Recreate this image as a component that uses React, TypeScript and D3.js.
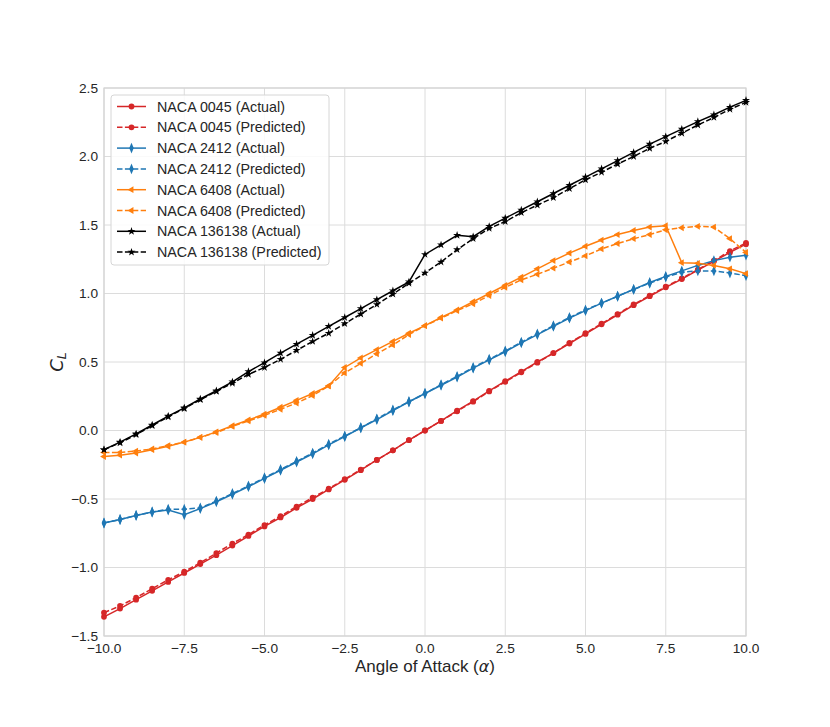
import * as d3 from 'd3';
import React from 'react';

const alpha = [
  -10, -9.5, -9, -8.5, -8, -7.5, -7, -6.5, -6, -5.5, -5, -4.5, -4, -3.5, -3, -2.5, -2, -1.5, -1, -0.5,
  0, 0.5, 1, 1.5, 2, 2.5, 3, 3.5, 4, 4.5, 5, 5.5, 6, 6.5, 7, 7.5, 8, 8.5, 9, 9.5, 10,
];

const naca0045Actual = [
  -1.36, -1.3, -1.235, -1.17, -1.105, -1.04, -0.975, -0.91, -0.84, -0.77, -0.7, -0.635, -0.565, -0.5, -0.43, -0.36, -0.29, -0.215, -0.145, -0.07,
  0, 0.07, 0.145, 0.215, 0.29, 0.36, 0.43, 0.5, 0.565, 0.635, 0.705, 0.775, 0.845, 0.915, 0.98, 1.045, 1.105, 1.17, 1.235, 1.3, 1.36,
];
const naca0045Predicted = [
  -1.33, -1.28, -1.22, -1.155, -1.09, -1.03, -0.965, -0.895, -0.825, -0.76, -0.69, -0.625, -0.555, -0.49, -0.425, -0.355, -0.285, -0.215, -0.145, -0.07,
  0, 0.07, 0.14, 0.21, 0.285, 0.355, 0.425, 0.495, 0.565, 0.64, 0.71, 0.78, 0.85, 0.92, 0.985, 1.05, 1.11, 1.175, 1.24, 1.31, 1.37,
];

const naca2412Actual = [
  -0.675, -0.65, -0.62, -0.595, -0.58, -0.615, -0.57, -0.52, -0.465, -0.41, -0.35, -0.29, -0.23, -0.17, -0.105, -0.045, 0.02, 0.08, 0.145, 0.21,
  0.27, 0.33, 0.39, 0.455, 0.515, 0.575, 0.64, 0.7, 0.76, 0.82, 0.875, 0.93, 0.98, 1.03, 1.08, 1.125, 1.165, 1.205, 1.24, 1.265, 1.28,
];
const naca2412Predicted = [
  -0.675, -0.65, -0.62, -0.595, -0.575, -0.575, -0.565, -0.515, -0.46, -0.405, -0.345, -0.285, -0.225, -0.165, -0.1, -0.04, 0.02, 0.085, 0.15, 0.21,
  0.27, 0.335, 0.395, 0.46, 0.52, 0.58, 0.645, 0.705, 0.765, 0.825, 0.88, 0.93, 0.98, 1.03, 1.075, 1.12, 1.155, 1.165, 1.165, 1.15, 1.13,
];

const naca6408Actual = [
  -0.19, -0.18, -0.165, -0.14, -0.115, -0.085, -0.05, -0.01, 0.035, 0.077, 0.12, 0.17, 0.22, 0.27, 0.325, 0.46, 0.53, 0.59, 0.65, 0.71,
  0.765, 0.825, 0.88, 0.94, 1.0, 1.06, 1.12, 1.18, 1.24, 1.295, 1.345, 1.39, 1.43, 1.46, 1.485, 1.495, 1.225, 1.22, 1.205, 1.18, 1.145,
];
const naca6408Predicted = [
  -0.16, -0.16, -0.15, -0.135, -0.11, -0.085, -0.05, -0.015, 0.03, 0.07, 0.11, 0.155, 0.2, 0.255, 0.325, 0.42, 0.49, 0.56, 0.625, 0.7,
  0.765, 0.82, 0.875, 0.925, 0.985, 1.045, 1.1, 1.14, 1.185, 1.23, 1.275, 1.325, 1.365, 1.4, 1.43, 1.465, 1.48, 1.49, 1.485, 1.4, 1.3,
];

const naca136138Actual = [
  -0.14, -0.085, -0.025, 0.04, 0.105, 0.165, 0.23, 0.29, 0.355, 0.43, 0.495, 0.565, 0.63, 0.695, 0.76, 0.825, 0.89, 0.955, 1.02, 1.085,
  1.285, 1.355, 1.425, 1.415, 1.49, 1.55, 1.61, 1.67, 1.73, 1.79, 1.85, 1.91, 1.97, 2.03, 2.09, 2.145, 2.2, 2.255, 2.305, 2.36, 2.41,
];
const naca136138Predicted = [
  -0.14, -0.09, -0.03, 0.035, 0.1, 0.16, 0.225, 0.285, 0.345, 0.41, 0.46, 0.52, 0.585, 0.65, 0.71, 0.78, 0.85, 0.92, 0.995, 1.075,
  1.15, 1.23, 1.32, 1.4, 1.475, 1.525, 1.59, 1.645, 1.7, 1.765, 1.83, 1.885, 1.945, 2.0, 2.06, 2.11, 2.17, 2.23, 2.285, 2.345, 2.395,
];

const xTicks = [-10, -7.5, -5, -2.5, 0, 2.5, 5, 7.5, 10];
const yTicks = [-1.5, -1.0, -0.5, 0.0, 0.5, 1.0, 1.5, 2.0, 2.5];

type Marker = 'circle' | 'diamond' | 'triangle' | 'star';

const series = [
  { label: 'NACA 0045 (Actual)', values: naca0045Actual, color: '#d62728', dashed: false, marker: 'circle' as Marker },
  { label: 'NACA 0045 (Predicted)', values: naca0045Predicted, color: '#d62728', dashed: true, marker: 'circle' as Marker },
  { label: 'NACA 2412 (Actual)', values: naca2412Actual, color: '#1f77b4', dashed: false, marker: 'diamond' as Marker },
  { label: 'NACA 2412 (Predicted)', values: naca2412Predicted, color: '#1f77b4', dashed: true, marker: 'diamond' as Marker },
  { label: 'NACA 6408 (Actual)', values: naca6408Actual, color: '#ff7f0e', dashed: false, marker: 'triangle' as Marker },
  { label: 'NACA 6408 (Predicted)', values: naca6408Predicted, color: '#ff7f0e', dashed: true, marker: 'triangle' as Marker },
  { label: 'NACA 136138 (Actual)', values: naca136138Actual, color: '#000000', dashed: false, marker: 'star' as Marker },
  { label: 'NACA 136138 (Predicted)', values: naca136138Predicted, color: '#000000', dashed: true, marker: 'star' as Marker },
];

const width = 830;
const height = 727;
const margin = { top: 88, right: 84, bottom: 91, left: 104 };
const font = '"Liberation Sans", Arial, sans-serif';

const markerPath: Record<Marker, string> = {
  circle: d3.symbol(d3.symbolCircle, 26)() || '',
  diamond: d3.symbol(d3.symbolDiamond, 34)() || '',
  triangle: d3.symbol(d3.symbolTriangle, 20)() || '',
  star: d3.symbol(d3.symbolStar, 20)() || '',
};

const markerTransform = (m: Marker, x: number, y: number): string => {
  if (m === 'diamond') return `translate(${x},${y}) scale(0.72,1)`;
  if (m === 'triangle') return `translate(${x},${y}) rotate(-90)`;
  return `translate(${x},${y})`;
};

function App(): any {
  const xScale = d3.scaleLinear().domain([-10, 10]).range([margin.left, width - margin.right]);
  const yScale = d3.scaleLinear().domain([-1.5, 2.5]).range([height - margin.bottom, margin.top]);

  const line = (vals: number[]) =>
    d3.line<number>()
      .x((_, i) => xScale(alpha[i]))
      .y((d) => yScale(d))(vals) || '';

  const fmt = (v: number) => (v < 0 ? '\u2212' : '') + Math.abs(v).toFixed(1);

  const legendX = 111;
  const legendY = 95;
  const rowH = 20.8;

  return (
    <svg width={width} height={height} style={{ position: 'absolute', left: 0, top: 0, background: '#fff' }} fontFamily={font}>
      <g className="grid">
        {xTicks.map((t) => (
          <line key={'gx' + t} x1={xScale(t)} x2={xScale(t)} y1={margin.top} y2={height - margin.bottom} stroke="#dcdcdc" strokeWidth={1} />
        ))}
        {yTicks.map((t) => (
          <line key={'gy' + t} x1={margin.left} x2={width - margin.right} y1={yScale(t)} y2={yScale(t)} stroke="#dcdcdc" strokeWidth={1} />
        ))}
        <rect x={margin.left} y={margin.top} width={width - margin.left - margin.right} height={height - margin.top - margin.bottom}
          fill="none" stroke="#d4d4d4" strokeWidth={1.2} />
      </g>

      <defs>
        <clipPath id="plot-clip">
          <rect x={margin.left - 6} y={margin.top - 6} width={width - margin.left - margin.right + 12} height={height - margin.top - margin.bottom + 12} />
        </clipPath>
      </defs>

      <g className="plot-area" clipPath="url(#plot-clip)">
        {series.map((s) => (
          <g key={s.label}>
            <path d={line(s.values)} fill="none" stroke={s.color} strokeWidth={1.5}
              strokeDasharray={s.dashed ? '5.5,2.4' : undefined} />
            {s.values.map((v, i) => (
              <path key={i} d={markerPath[s.marker]} transform={markerTransform(s.marker, xScale(alpha[i]), yScale(v))} fill={s.color} />
            ))}
          </g>
        ))}
      </g>

      <g className="ticks" fontSize={13.7} fill="#262626">
        {xTicks.map((t) => (
          <text key={'tx' + t} x={xScale(t)} y={height - margin.bottom + 17} textAnchor="middle">{fmt(t)}</text>
        ))}
        {yTicks.map((t) => (
          <text key={'ty' + t} x={margin.left - 6} y={yScale(t) + 4.8} textAnchor="end">{fmt(t)}</text>
        ))}
      </g>

      <text x={(margin.left + width - margin.right) / 2} y={height - margin.bottom + 36} textAnchor="middle" fontSize={17} fill="#262626">
        Angle of Attack (<tspan fontStyle="italic" fontFamily='"DejaVu Sans", sans-serif' fontSize={16}>α</tspan>)
      </text>
      <text transform={`translate(63,${(margin.top + height - margin.bottom) / 2}) rotate(-90)`} textAnchor="middle" fontSize={18} fill="#262626"
        fontFamily='"DejaVu Sans", sans-serif'>
        <tspan fontStyle="italic">C</tspan>
        <tspan fontStyle="italic" fontSize={12.5} dy={3}>L</tspan>
      </text>

      <g className="legend">
        <rect x={legendX} y={legendY} width={218} height={170} rx={3} fill="#fff" fillOpacity={0.85} stroke="#d6d6d6" />
        {series.map((s, i) => {
          const cy = legendY + 11.5 + i * rowH;
          return (
            <g key={'lg' + s.label}>
              <line x1={117} x2={146} y1={cy} y2={cy} stroke={s.color} strokeWidth={1.5} strokeDasharray={s.dashed ? '5.5,2.4' : undefined} />
              <path d={markerPath[s.marker]} transform={markerTransform(s.marker, 131.5, cy)} fill={s.color} />
              <text x={157} y={cy + 5} fontSize={14.3} fill="#262626">{s.label}</text>
            </g>
          );
        })}
      </g>
    </svg>
  );
}

export default App;
